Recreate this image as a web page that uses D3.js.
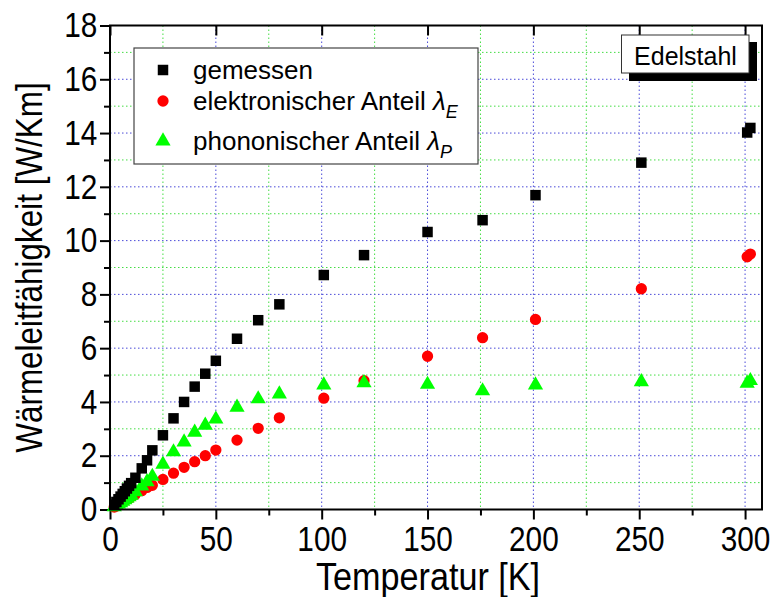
<!DOCTYPE html>
<html><head><meta charset="utf-8">
<script src="https://cdn.jsdelivr.net/npm/d3@7"></script>
<style>body{margin:0;background:#fff}svg{display:block}text{font-family:"Liberation Sans",Arial,sans-serif}</style>
</head><body><svg id="c" width="770" height="597"></svg>
<script>
const temps = [2,3,4,5,6,7,8,9,10,12,15,17.5,20,25,30,35,40,45,50,60,70,80,101,120,150,176,201,251,301,302.5];
const gemessen = [0.18,0.28,0.38,0.48,0.58,0.68,0.78,0.88,0.98,1.18,1.53,1.83,2.20,2.76,3.39,4.00,4.57,5.05,5.53,6.35,7.04,7.63,8.72,9.46,10.32,10.76,11.69,12.90,14.02,14.19];
const elektronisch = [0.09,0.13,0.18,0.23,0.28,0.33,0.38,0.42,0.47,0.57,0.70,0.82,0.90,1.12,1.35,1.57,1.78,2.00,2.21,2.58,3.02,3.41,4.14,4.79,5.70,6.39,7.07,8.21,9.40,9.50];
const phononisch = [0.10,0.15,0.20,0.25,0.30,0.36,0.41,0.47,0.53,0.66,0.87,1.03,1.23,1.68,2.14,2.51,2.87,3.13,3.36,3.80,4.11,4.29,4.63,4.71,4.65,4.41,4.63,4.75,4.69,4.79];
const xTicks = [0,50,100,150,200,250,300];
const xMinor = [25,75,125,175,225,275];
const yTicks = [0,2,4,6,8,10,12,14,16,18];
const yMinor = [1,3,5,7,9,11,13,15,17];
const legendLabels = ["gemessen","elektronischer Anteil ","phononischer Anteil "];
const legendSubs = [null,"E","P"];

const svg = d3.select("#c");
const L=110,R=762,T=25.5,B=509.5;
const x = d3.scaleLinear().domain([0,308]).range([L,R]);
const y = d3.scaleLinear().domain([0,18]).range([B,T]);

const grid = svg.append("g");
grid.selectAll(".gxm").data(xMinor).join("line").attr("x1",d=>x(d)).attr("x2",d=>x(d)).attr("y1",T).attr("y2",B)
  .attr("stroke","#44dd44").attr("stroke-width",1).attr("stroke-dasharray","1.5,2.5");
grid.selectAll(".gym").data(yMinor).join("line").attr("y1",d=>y(d)).attr("y2",d=>y(d)).attr("x1",L).attr("x2",R)
  .attr("stroke","#44dd44").attr("stroke-width",1).attr("stroke-dasharray","1.5,2.5");
grid.selectAll(".gx").data(xTicks.slice(1)).join("line").attr("x1",d=>x(d)).attr("x2",d=>x(d)).attr("y1",T).attr("y2",B)
  .attr("stroke","#4a4ad8").attr("stroke-width",1).attr("stroke-dasharray","1.5,2.5");
grid.selectAll(".gy").data(yTicks.slice(1,-1)).join("line").attr("y1",d=>y(d)).attr("y2",d=>y(d)).attr("x1",L).attr("x2",R)
  .attr("stroke","#4a4ad8").attr("stroke-width",1).attr("stroke-dasharray","1.5,2.5");

// axes
const fs = 35, sx = 0.85;
const xAxis = d3.axisBottom(x).tickValues(xTicks).tickSize(10).tickPadding(7).tickFormat(d3.format("d"));
const gx = svg.append("g").attr("transform",`translate(0,${B})`).call(xAxis);
const gxm = svg.append("g").attr("transform",`translate(0,${B})`).call(d3.axisBottom(x).tickValues(xMinor).tickSize(6).tickFormat(""));
const yAxis = d3.axisLeft(y).tickValues(yTicks).tickSize(10).tickPadding(5).tickFormat(d3.format("d"));
const gy = svg.append("g").attr("transform",`translate(${L},0)`).call(yAxis);
const gym = svg.append("g").attr("transform",`translate(${L},0)`).call(d3.axisLeft(y).tickValues(yMinor).tickSize(6).tickFormat(""));
const gtop = svg.append("g").attr("transform",`translate(0,${T})`).call(d3.axisBottom(x).tickValues(xTicks).tickSize(10).tickFormat(""));
[gx,gxm,gy,gym,gtop].forEach(g=>{g.select(".domain").remove();g.selectAll("line").attr("stroke","#000").attr("stroke-width",2);});
[gx,gy].forEach(g=>g.selectAll("text").attr("font-size",fs).attr("fill","#000").attr("transform",`scale(${sx},1)`));

// data
const pts = temps.map((t,i)=>({t,g:gemessen[i],e:elektronisch[i],p:phononisch[i]}));
const dg = svg.append("g");
const sq = d3.symbol().type(d3.symbolSquare).size(110);
const ci = d3.symbol().type(d3.symbolCircle).size(100);
const tr = d3.symbol().type(d3.symbolTriangle).size(100);
dg.selectAll(".e").data(pts).join("path").attr("d",ci).attr("transform",d=>`translate(${x(d.t)},${y(d.e)})`).attr("fill","#ff0000");
dg.selectAll(".p").data(pts).join("path").attr("d",tr).attr("transform",d=>`translate(${x(d.t)},${y(d.p)})`).attr("fill","#00ff00");
dg.selectAll(".g").data(pts).join("path").attr("d",sq).attr("transform",d=>`translate(${x(d.t)},${y(d.g)})`).attr("fill","#000");

// frame
svg.append("rect").attr("x",L).attr("y",T).attr("width",R-L).attr("height",B-T).attr("fill","none").attr("stroke","#000").attr("stroke-width",2);

// legend
const lg = svg.append("g");
lg.append("rect").attr("x",134).attr("y",48).attr("width",344).attr("height",116).attr("fill","#fff").attr("stroke","#444").attr("stroke-width",1.2);
const rowsY=[70,101,141];
const markers=[sq,ci,tr], mcol=["#000","#ff0000","#00ff00"];
legendLabels.forEach((lab,i)=>{
  lg.append("path").attr("d",markers[i]).attr("transform",`translate(163,${rowsY[i]})`).attr("fill",mcol[i]);
  const t = lg.append("text").attr("x",193).attr("y",rowsY[i]).attr("dy","0.35em").attr("font-size",26).attr("fill","#000").text(lab);
  if(legendSubs[i]){
    t.append("tspan").attr("font-style","italic").text("λ");
    t.append("tspan").attr("font-style","italic").attr("font-size",18).attr("dy","0.45em").text(legendSubs[i]);
  }
});

// Edelstahl box
const eb = svg.append("g");
eb.append("rect").attr("x",629).attr("y",42).attr("width",128).attr("height",39).attr("fill","#000");
eb.append("rect").attr("x",621.5).attr("y",35).attr("width",127.5).attr("height",38).attr("fill","#fff").attr("stroke","#333").attr("stroke-width",1);
eb.append("text").attr("x",685.5).attr("y",65).attr("text-anchor","middle").attr("font-size",25).attr("fill","#000").text("Edelstahl");

// titles
svg.append("text").attr("transform",`translate(${(L+R)/2-8},590) scale(0.9,1)`).attr("text-anchor","middle").attr("font-size",38).attr("fill","#000").text("Temperatur [K]");
svg.append("text").attr("transform",`translate(42,${(T+B)/2}) rotate(-90) scale(0.85,1)`).attr("text-anchor","middle").attr("font-size",37).attr("fill","#000").text("Wärmeleitfähigkeit [W/Km]");
</script></body></html>
